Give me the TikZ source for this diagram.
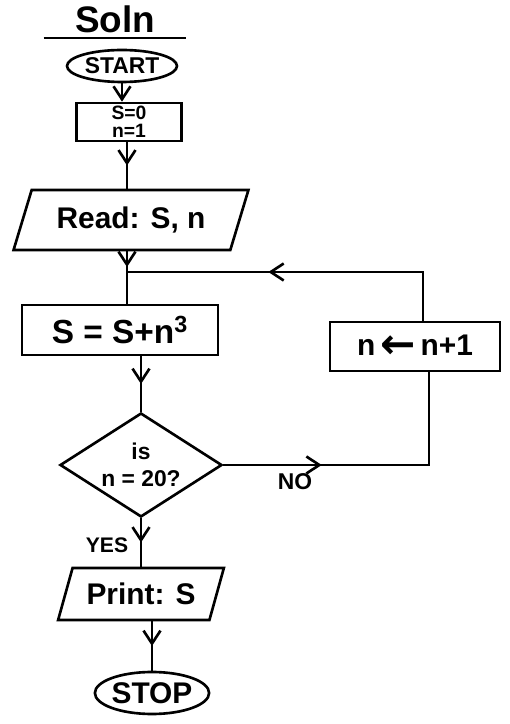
\documentclass[tikz,border=0pt]{standalone}
\usepackage{fontspec}
\setmainfont{Liberation Sans}
\newfontfamily\arrowfont{DejaVu Sans}
\usetikzlibrary{arrows.meta,shapes.geometric,decorations.markings}

\begin{document}
\begin{tikzpicture}[>={Straight Barb[length=2.6mm,width=3.4mm]},line width=1.5pt,
  every node/.append style={font=\bfseries},
  terminal/.style={draw,ellipse,inner sep=0pt},
  process/.style={draw,rectangle,inner sep=1pt},
  io/.style={draw,trapezium,trapezium left angle=65,trapezium right angle=115,
    trapezium stretches=true,inner sep=1pt},
  decision/.style={draw,diamond,aspect=1.56,inner sep=0pt},
  midarrow/.style={postaction={decorate},decoration={markings,
    mark=at position #1 with {\arrow{>}}}},
  midarrow/.default=0.5]
\useasboundingbox (0,0) rectangle (10.18,14.48);
% title
\node[font=\bfseries\fontsize{21}{24}\selectfont,minimum width=2.8cm,inner sep=2pt,anchor=south] (soln) at (2.3,13.72) {Soln};
\draw[line width=1.2pt] (soln.south west) -- (soln.south east);
% main column
\node[terminal,minimum width=2.2cm,minimum height=0.64cm,font=\bfseries\fontsize{13}{16}\selectfont] (start) at (2.44,13.16) {START};
\node[process,minimum width=2.1cm,minimum height=0.76cm,font=\bfseries\fontsize{11}{10}\selectfont,align=center] (init) at (2.58,12.04) {S=0\\n=1};
\node[io,minimum width=4.7cm,minimum height=1.2cm,font=\bfseries\fontsize{17}{20}\selectfont] (read) at (2.62,10.08) {Read: S, n};
\coordinate (join) at (2.54,9.04);
\node[process,minimum width=3.92cm,minimum height=1.0cm,font=\bfseries\fontsize{19}{22}\selectfont] (sum) at (2.40,7.88) {S = S+n\textsuperscript{3}};
\node[decision,minimum width=3.24cm,minimum height=2.08cm,font=\bfseries\fontsize{13}{15}\selectfont,align=center] (test) at (2.82,5.18) {is\\n = 20?};
\node[io,minimum width=3.34cm,minimum height=1.04cm,font=\bfseries\fontsize{17}{20}\selectfont] (print) at (2.82,2.60) {Print: S};
\node[terminal,minimum width=2.22cm,minimum height=0.84cm,font=\bfseries\fontsize{17}{20}\selectfont] (stop) at (3.04,0.62) {STOP};
% loop
\node[process,minimum width=3.4cm,minimum height=0.98cm,font=\bfseries\fontsize{17}{20}\selectfont] (incr) at (8.30,7.55) {n\,{\arrowfont\bfseries\fontsize{24}{20}\selectfont\raisebox{-1.5pt}{←}}\,n+1};
\coordinate (noend) at (8.58,5.18);
\coordinate (loopend) at (8.46,9.04);
\node[font=\bfseries\fontsize{13}{15}\selectfont] (no) at (5.90,4.84) {NO};
\node[font=\bfseries\fontsize{12}{15}\selectfont] (yes) at (2.14,3.58) {YES};
% connectors
\draw[->] (start.south) -- (start.south |- init.north);
\draw[midarrow] (init.south -| join) -- (read.north -| join);
\draw[midarrow=0.3] (read.south -| join) -- (sum.north -| join);
\draw[midarrow] (sum.south -| test.north) -- (test.north);
\draw[midarrow] (test.south) -- (print.north -| test.south);
\draw[midarrow] (print.south -| stop.north) -- (stop.north);
\draw[midarrow=0.33] (test.east) -- (noend) -- (noend |- incr.south);
\draw[midarrow=0.59] (incr.north -| loopend) -- (loopend) -- (join);
\end{tikzpicture}
\end{document}
